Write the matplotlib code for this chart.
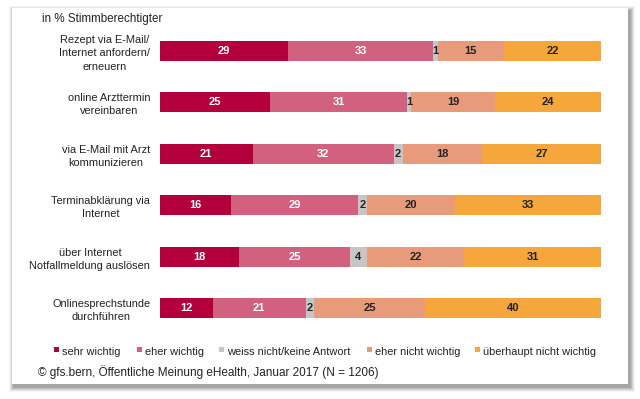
import matplotlib
matplotlib.use("Agg")
import matplotlib.pyplot as plt
from matplotlib.patches import Rectangle

categories = [
    "Rezept via E-Mail/\nInternet anfordern/\nerneuern",
    "online Arzttermin\nvereinbaren",
    "via E-Mail mit Arzt\nkommunizieren",
    "Terminabklärung via\nInternet",
    "über Internet\nNotfallmeldung auslösen",
    "Onlinesprechstunde\ndurchführen",
]
series_names = ["sehr wichtig", "eher wichtig", "weiss nicht/keine Antwort",
                "eher nicht wichtig", "überhaupt nicht wichtig"]
sehr_wichtig = [29, 25, 21, 16, 18, 12]
eher_wichtig = [33, 31, 32, 29, 25, 21]
weiss_nicht = [1, 1, 2, 2, 4, 2]
eher_nicht = [15, 19, 18, 20, 22, 25]
ueberhaupt_nicht = [22, 24, 27, 33, 31, 40]
series = [sehr_wichtig, eher_wichtig, weiss_nicht, eher_nicht, ueberhaupt_nicht]
colors = ["#B3003C", "#D2617F", "#C6C6C6", "#E89B7B", "#F6A73B"]
text_colors = ["white", "white", "#222222", "#222222", "#222222"]

plt.rcParams['font.family'] = ['Liberation Sans', 'DejaVu Sans']

W, H = 640, 399
fig = plt.figure(figsize=(W / 100, H / 100), dpi=100)
fig.patch.set_facecolor("white")

def fx(px):
    return px / W

def fy(py):
    return 1 - py / H

# card shadow
for i, a in enumerate([0.04, 0.06, 0.08, 0.10, 0.12]):
    off = 5 - i
    fig.patches.append(Rectangle((fx(12 - off + 2), fy(385 + off + 2)),
                                 fx(616 + 2 * off), (376 + 2 * off) / H,
                                 transform=fig.transFigure, facecolor="black",
                                 alpha=a, edgecolor="none", zorder=0))
fig.patches.append(Rectangle((fx(12), fy(384)), fx(616), 376 / H,
                             transform=fig.transFigure, facecolor="white",
                             edgecolor="none", zorder=1))

ax = fig.add_axes([fx(160), fy(334), fx(441), (334 - 25) / H])
ax.set_zorder(2)
ax.patch.set_alpha(0)

ypos = list(range(len(categories)))
left = [0] * len(categories)
for vals, col, tcol in zip(series, colors, text_colors):
    ax.barh(ypos, vals, left=left, height=0.39, color=col, edgecolor="none")
    for y, v, l in zip(ypos, vals, left):
        ax.text(l + v / 2, y, str(v), ha="center", va="center", color=tcol,
                fontsize=8, fontweight="bold")
    left = [a + b for a, b in zip(left, vals)]

ax.set_xlim(0, 100)
ax.set_ylim(len(categories) - 0.5, -0.5)
ax.set_yticks(ypos)
ax.set_yticklabels(categories, fontsize=7.9, color="#222222", linespacing=1.4,
                   multialignment="center")
ax.tick_params(axis="y", length=0, pad=7)
ax.set_xticks([])
for s in ax.spines.values():
    s.set_visible(False)

fig.text(fx(42), fy(19), "in % Stimmberechtigter", fontsize=8.4, color="#222222",
         ha="left", va="center", zorder=3)

# legend
leg_x = [54, 137, 219, 367, 475]
for name, col, x in zip(series_names, colors, leg_x):
    fig.patches.append(Rectangle((fx(x), fy(352)), fx(5), 5 / H,
                                 transform=fig.transFigure, facecolor=col,
                                 edgecolor="none", zorder=3))
    fig.text(fx(x + 8), fy(352), name, fontsize=7.9, color="#222222",
             ha="left", va="center", zorder=3)

fig.text(fx(38), fy(372),
         "© gfs.bern, Öffentliche Meinung eHealth, Januar 2017 (N = 1206)",
         fontsize=8.5, color="#222222", ha="left", va="center", zorder=3)

fig.savefig("out.png", dpi=100, facecolor="white")
